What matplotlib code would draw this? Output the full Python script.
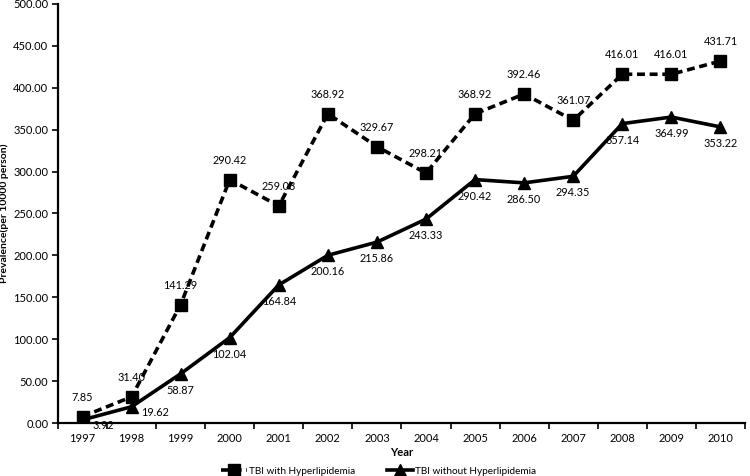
import matplotlib
matplotlib.use("Agg")
import matplotlib.pyplot as plt
import numpy as np

years = ["1997", "1998", "1999", "2000", "2001", "2002", "2003", "2004",
         "2005", "2006", "2007", "2008", "2009", "2010"]
with_hl = [7.85, 31.40, 141.29, 290.42, 259.03, 368.92, 329.67, 298.21,
           368.92, 392.46, 361.07, 416.01, 416.01, 431.71]
without_hl = [3.92, 19.62, 58.87, 102.04, 164.84, 200.16, 215.86, 243.33,
              290.42, 286.50, 294.35, 357.14, 364.99, 353.22]
yticks = [0, 50, 100, 150, 200, 250, 300, 350, 400, 450, 500]

plt.rcParams['font.family'] = ['Lato', 'DejaVu Sans']

fig = plt.figure(figsize=(7.5, 4.76), dpi=100)
ax = fig.add_axes([0.0773, 0.111, 0.916, 0.881])

x = np.arange(len(years))
ax.plot(x, with_hl, color='black', lw=2.6, ls=(0, (2.2, 1.3)), marker='s',
        ms=8, label='TBI with Hyperlipidemia', zorder=3)
ax.plot(x, without_hl, color='black', lw=2.6, ls='-', marker='^',
        ms=8, label='TBI without Hyperlipidemia', zorder=3)

fs = 7.8
for i, v in enumerate(with_hl):
    ax.annotate(f"{v:.2f}", (x[i], v), xytext=(0, 10), textcoords='offset points',
                ha='center', va='bottom', fontsize=fs)
for i, v in enumerate(without_hl):
    if i < 2:
        ax.annotate(f"{v:.2f}", (x[i], v), xytext=(7, -4), textcoords='offset points',
                    ha='left', va='center', fontsize=fs)
    else:
        ax.annotate(f"{v:.2f}", (x[i], v), xytext=(0, -8), textcoords='offset points',
                    ha='center', va='top', fontsize=fs)

ax.set_xlim(-0.5, len(years) - 0.5)
ax.set_ylim(0, 500)
ax.set_yticks(yticks)
ax.set_yticklabels([f"{t:.2f}" for t in yticks], fontsize=8)
ax.set_xticks(x)
ax.set_xticklabels(years, fontsize=8)
ax.set_xticks(np.arange(-0.5, len(years)), minor=True)
ax.tick_params(axis='x', which='major', length=0, pad=7)
ax.tick_params(axis='x', which='minor', length=4, width=1.2, direction='out')
ax.tick_params(axis='y', length=4, width=1.2, direction='out', pad=3)

for s in ['top', 'right']:
    ax.spines[s].set_visible(False)
for s in ['left', 'bottom']:
    ax.spines[s].set_linewidth(1.6)

ax.set_xlabel("Year", fontsize=8, fontweight='bold', labelpad=2)
ax.set_ylabel("Prevalence(per 10000 person)", fontsize=7.5, fontweight='bold')
ax.yaxis.set_label_coords(-0.072, 0.5)

fig.legend(loc='lower center', bbox_to_anchor=(0.505, -0.018), ncol=2, frameon=False,
           fontsize=7.2, handlelength=2.6, columnspacing=3.2, handletextpad=0.2)

fig.savefig("out.png", dpi=100)
